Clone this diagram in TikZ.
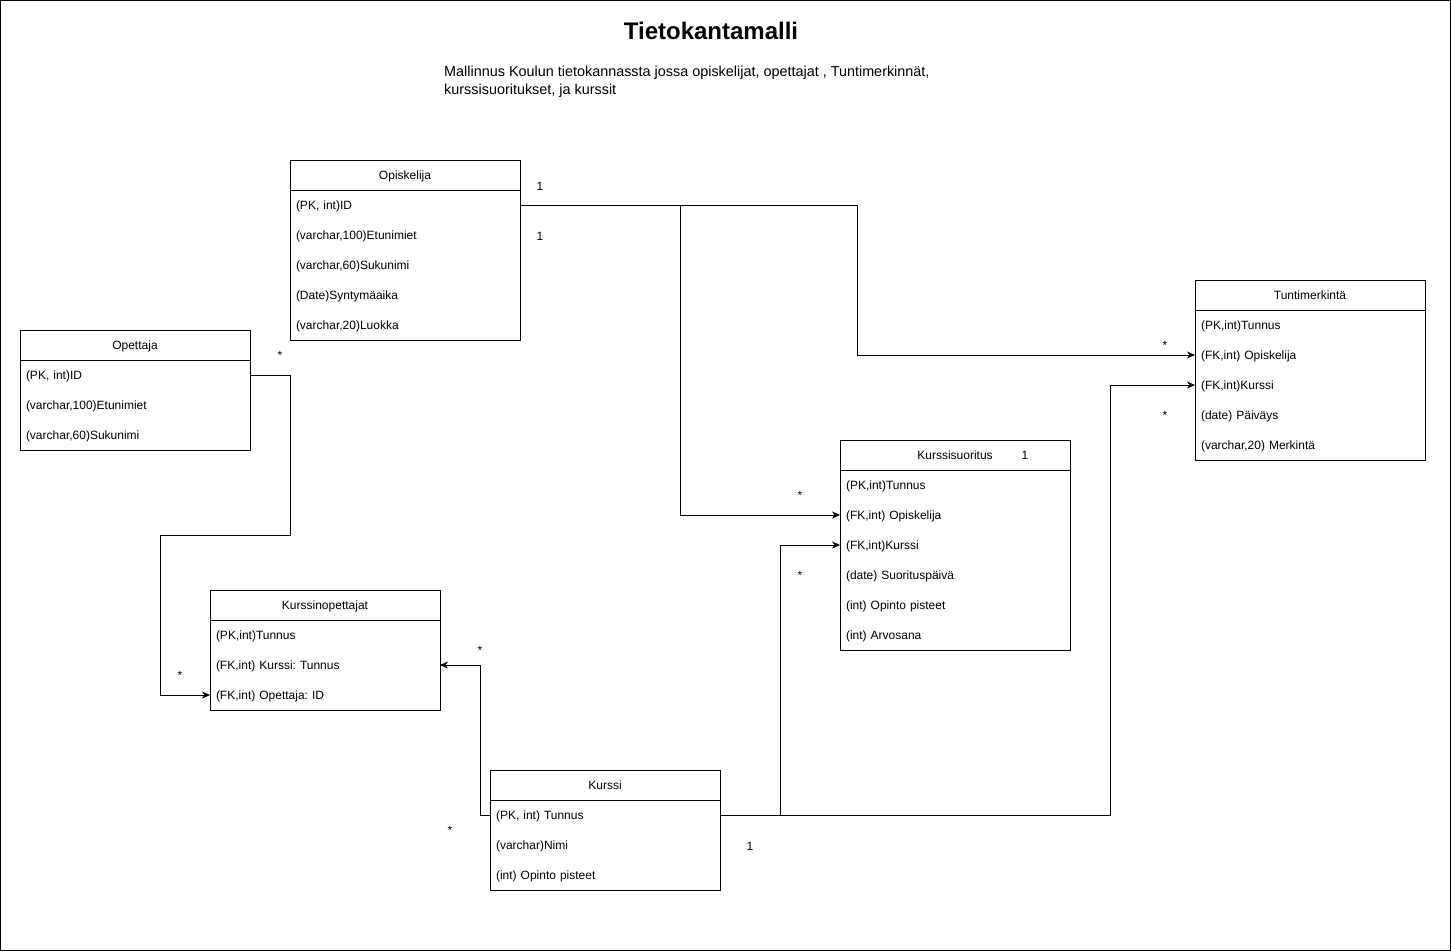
\documentclass[tikz,border=0pt]{standalone}
\usepackage{fontspec}
\setmainfont{Liberation Sans}
\usetikzlibrary{positioning,arrows.meta,fit}
\newcommand{\cellfont}{\fontsize{12}{14}\selectfont}
\frenchspacing
\tikzset{
  >={Stealth[length=8pt,width=7pt,inset=2.5pt]},
  tblhead/.style={draw,line width=1pt,minimum width=230pt,minimum height=30pt,
    inner sep=0pt,outer sep=0pt,text height=9.5pt,text depth=0.5pt,font=\cellfont},
  tblrow/.style={minimum height=30pt,text width=218pt,inner xsep=6pt,
    inner ysep=0pt,outer sep=0pt,text height=9.5pt,text depth=0.5pt,
    align=left,font=\cellfont},
  tblframe/.style={draw,line width=1pt,inner sep=0pt,outer sep=0pt},
  rel/.style={->,line width=1pt},
  card/.style={font=\cellfont,inner sep=0pt,anchor=base},
}
\begin{document}
\begin{tikzpicture}[x=1pt,y=-1pt]
  \useasboundingbox (0,0) rectangle (1451,951);
  \draw[line width=1pt] (0.5,0.5) rectangle (1450.5,950.5);

  % title and description
  \node[font=\fontsize{24}{28}\selectfont\bfseries,inner sep=0pt,anchor=base]
    (title) at (711,39) {Tietokantamalli};
  \node[font=\fontsize{14.4}{17.5}\selectfont,inner sep=0pt,anchor=north west,align=left]
    (desc) at (444,66) {Mallinnus Koulun tietokannassta jossa opiskelijat, opettajat , Tuntimerkinnät,\\
    kurssisuoritukset, ja kurssit};

  % Opiskelija
  \node[tblhead,anchor=north west] (ops) at (290,160) {Opiskelija};
  \node[tblrow,below=0pt of ops] (ops-id) {(PK, int)ID};
  \node[tblrow,below=0pt of ops-id] (ops-etu) {(varchar,100)Etunimiet};
  \node[tblrow,below=0pt of ops-etu] (ops-suku) {(varchar,60)Sukunimi};
  \node[tblrow,below=0pt of ops-suku] (ops-syn) {(Date)Syntymäaika};
  \node[tblrow,below=0pt of ops-syn] (ops-luo) {(varchar,20)Luokka};
  \node[tblframe,fit=(ops)(ops-luo)] (ops-box) {};

  % Opettaja
  \node[tblhead,anchor=north west] (ope) at (20,330) {Opettaja};
  \node[tblrow,below=0pt of ope] (ope-id) {(PK, int)ID};
  \node[tblrow,below=0pt of ope-id] (ope-etu) {(varchar,100)Etunimiet};
  \node[tblrow,below=0pt of ope-etu] (ope-suku) {(varchar,60)Sukunimi};
  \node[tblframe,fit=(ope)(ope-suku)] (ope-box) {};

  % Tuntimerkinta
  \node[tblhead,anchor=north west] (tun) at (1195,280) {Tuntimerkintä};
  \node[tblrow,below=0pt of tun] (tun-id) {(PK,int)Tunnus};
  \node[tblrow,below=0pt of tun-id] (tun-ops) {(FK,int) Opiskelija};
  \node[tblrow,below=0pt of tun-ops] (tun-kur) {(FK,int)Kurssi};
  \node[tblrow,below=0pt of tun-kur] (tun-pvm) {(date) Päiväys};
  \node[tblrow,below=0pt of tun-pvm] (tun-mer) {(varchar,20) Merkintä};
  \node[tblframe,fit=(tun)(tun-mer)] (tun-box) {};

  % Kurssisuoritus
  \node[tblhead,anchor=north west] (ksu) at (840,440) {Kurssisuoritus};
  \node[tblrow,below=0pt of ksu] (ksu-id) {(PK,int)Tunnus};
  \node[tblrow,below=0pt of ksu-id] (ksu-ops) {(FK,int) Opiskelija};
  \node[tblrow,below=0pt of ksu-ops] (ksu-kur) {(FK,int)Kurssi};
  \node[tblrow,below=0pt of ksu-kur] (ksu-pvm) {(date) Suorituspäivä};
  \node[tblrow,below=0pt of ksu-pvm] (ksu-op) {(int) Opinto pisteet};
  \node[tblrow,below=0pt of ksu-op] (ksu-arv) {(int) Arvosana};
  \node[tblframe,fit=(ksu)(ksu-arv)] (ksu-box) {};

  % Kurssinopettajat
  \node[tblhead,anchor=north west] (kop) at (210,590) {Kurssinopettajat};
  \node[tblrow,below=0pt of kop] (kop-id) {(PK,int)Tunnus};
  \node[tblrow,below=0pt of kop-id] (kop-kur) {(FK,int) Kurssi: Tunnus};
  \node[tblrow,below=0pt of kop-kur] (kop-ope) {(FK,int) Opettaja: ID};
  \node[tblframe,fit=(kop)(kop-ope)] (kop-box) {};

  % Kurssi
  \node[tblhead,anchor=north west] (kur) at (490,770) {Kurssi};
  \node[tblrow,below=0pt of kur] (kur-id) {(PK, int) Tunnus};
  \node[tblrow,below=0pt of kur-id] (kur-nimi) {(varchar)Nimi};
  \node[tblrow,below=0pt of kur-nimi] (kur-op) {(int) Opinto pisteet};
  \node[tblframe,fit=(kur)(kur-op)] (kur-box) {};

  % relations
  \draw[rel] (ops-id.east) -- ++(160,0) |- (ksu-ops.west);
  \draw[rel] (ops-id.east) -- ++(337,0) |- (tun-ops.west);
  \draw[rel] (ope-id.east) -- ++(40,0) -- ++(0,160) -- ++(-130,0) |- (kop-ope.west);
  \draw[rel] (kur-id.west) -- ++(-10,0) |- (kop-kur.east);
  \draw[rel] (kur-id.east) -- ++(60,0) |- (ksu-kur.west);
  \draw[rel] (kur-id.east) -- ++(390,0) |- (tun-kur.west);

  % cardinalities
  \node[card] (c1) at (540,190) {1};
  \node[card] (c2) at (540,240) {1};
  \node[card] (c3) at (1025,459) {1};
  \node[card] (c4) at (750,850) {1};
  \node[card] (s1) at (280,359) {*};
  \node[card] (s2) at (1165,349) {*};
  \node[card] (s3) at (1165,419) {*};
  \node[card] (s4) at (800,499) {*};
  \node[card] (s5) at (800,579) {*};
  \node[card] (s6) at (480,654) {*};
  \node[card] (s7) at (180,679) {*};
  \node[card] (s8) at (450,834) {*};
\end{tikzpicture}
\end{document}
